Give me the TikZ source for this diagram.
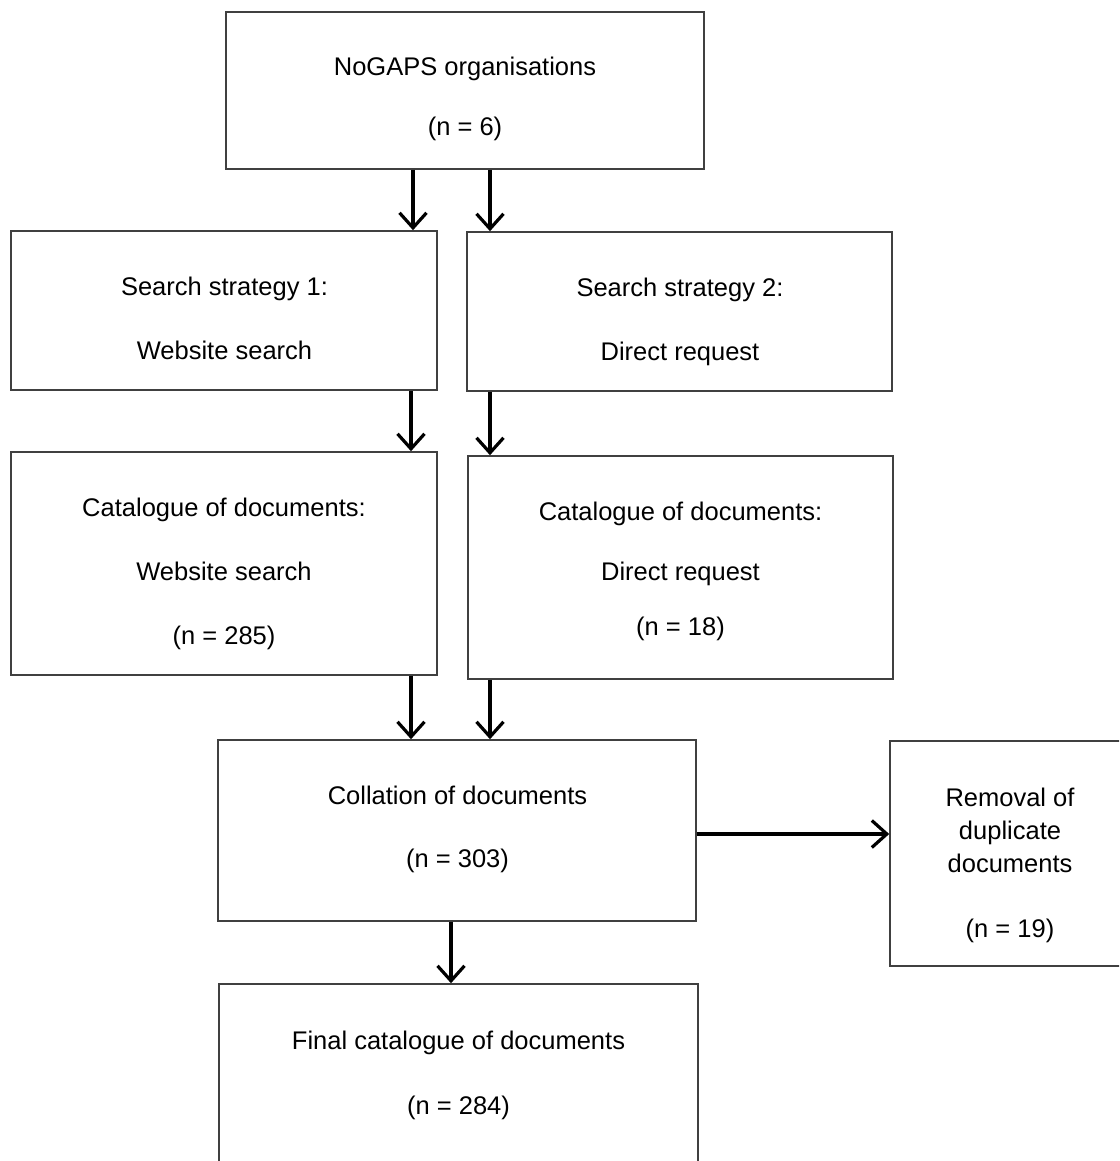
\documentclass[tikz,border=0pt]{standalone}
\usepackage{fontspec}
\setmainfont{Liberation Sans}
\usetikzlibrary{arrows.meta}
\begin{document}
\begin{tikzpicture}[x=1pt,y=-1pt,
  box/.style={draw=black!75, line width=1.6pt, inner sep=0pt, rectangle},
  txt/.style={font=\fontsize{25.5}{30}\selectfont, inner sep=0pt, anchor=base, yshift=-9pt},
  arr/.style={line width=3.2pt, -{Straight Barb[length=15pt,width=27pt,line width=3.2pt]}}]
\useasboundingbox (0,0) rectangle (1119,1161);
\clip (0,0) rectangle (1119,1161);
% boxes
\node[box, minimum width=478pt, minimum height=157pt] (top) at (465,90.5) {};
\node[box, minimum width=426pt, minimum height=159pt] (s1) at (224,310.5) {};
\node[box, minimum width=425pt, minimum height=159pt] (s2) at (679.5,311.5) {};
\node[box, minimum width=426pt, minimum height=223pt] (c1) at (224,563.5) {};
\node[box, minimum width=425pt, minimum height=223pt] (c2) at (680.5,567.5) {};
\node[box, minimum width=478pt, minimum height=181pt] (coll) at (457,830.5) {};
\node[box, minimum width=240pt, minimum height=225pt] (rem) at (1010,853.5) {};
\node[box, minimum width=479pt, minimum height=191pt] (fin) at (458.5,1079.5) {};
% texts
\node[txt] (t1a) at (465,67) {NoGAPS organisations};
\node[txt] (t1b) at (465,127) {(n = 6)};
\node[txt] (t2a) at (224.5,286) {Search strategy 1:};
\node[txt] (t2b) at (224.5,350) {Website search};
\node[txt] (t3a) at (680,287) {Search strategy 2:};
\node[txt] (t3b) at (680,351) {Direct request};
\node[txt] (t4a) at (224,507) {Catalogue of documents:};
\node[txt] (t4b) at (224,571) {Website search};
\node[txt] (t4c) at (224,635) {(n = 285)};
\node[txt] (t5a) at (680.5,511) {Catalogue of documents:};
\node[txt] (t5b) at (680.5,571) {Direct request};
\node[txt] (t5c) at (680.5,626) {(n = 18)};
\node[txt] (t6a) at (457.5,795) {Collation of documents};
\node[txt] (t6b) at (457.5,858) {(n = 303)};
\node[txt] (t7a) at (1010,797) {Removal of};
\node[txt] (t7b) at (1010,830) {duplicate};
\node[txt] (t7c) at (1010,863) {documents};
\node[txt] (t7d) at (1010,928) {(n = 19)};
\node[txt] (t8a) at (458.5,1040) {Final catalogue of documents};
\node[txt] (t8b) at (458.5,1105) {(n = 284)};
% guide coordinates
\coordinate (xa) at (413,0);
\coordinate (xb) at (490,0);
\coordinate (xc) at (411,0);
\coordinate (xd) at (451,0);
\coordinate (ye) at (0,834);
% arrows
\draw[arr] (top.south -| xa) -- (s1.north -| xa);
\draw[arr] (top.south -| xb) -- (s2.north -| xb);
\draw[arr] (s1.south -| xc) -- (c1.north -| xc);
\draw[arr] (s2.south -| xb) -- (c2.north -| xb);
\draw[arr] (c1.south -| xc) -- (coll.north -| xc);
\draw[arr] (c2.south -| xb) -- (coll.north -| xb);
\draw[arr] (coll.south -| xd) -- (fin.north -| xd);
\draw[arr] (coll.east |- ye) -- (rem.west |- ye);
\end{tikzpicture}
\end{document}
